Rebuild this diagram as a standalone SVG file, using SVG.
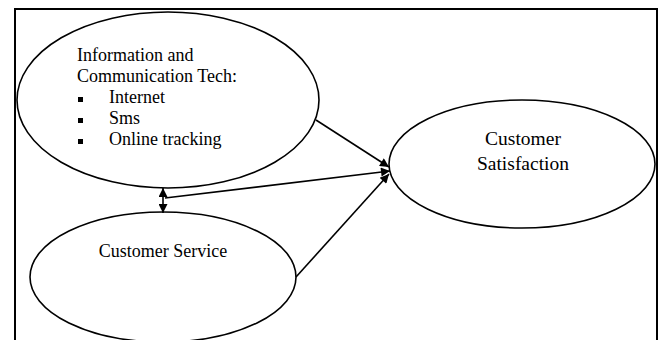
<svg xmlns="http://www.w3.org/2000/svg" width="660" height="340" viewBox="0 0 660 340">
  <style>
    .node ellipse { fill: #ffffff; stroke: #000000; stroke-width: 1.6; }
    .label { font-family: "Liberation Serif", "Times New Roman", serif; fill: #000000; }
    .edge { stroke: #000000; stroke-width: 1.6; fill: none; }
  </style>
  <defs>
    <marker id="arrow" viewBox="0 0 10 10" refX="10" refY="5" markerWidth="11" markerHeight="9" markerUnits="userSpaceOnUse" orient="auto-start-reverse">
      <path d="M0,0 L10,5 L0,10 Z" fill="#000000"/>
    </marker>
  </defs>
  <rect width="660" height="340" fill="#ffffff"/>
  <!-- outer frame, open at the bottom -->
  <path d="M15,340 L15,9 L657,9 L657,340" fill="none" stroke="#000000" stroke-width="2"/>

  <g id="ict" class="node">
    <ellipse cx="168" cy="100" rx="151" ry="88"/>
    <text class="label" font-size="18" x="77" y="61">Information and</text>
    <text class="label" font-size="18" x="77" y="82">Communication Tech:</text>
    <rect x="78" y="97" width="5" height="5"/>
    <text class="label" font-size="18" x="109" y="103">Internet</text>
    <rect x="78" y="118" width="5" height="5"/>
    <text class="label" font-size="18" x="109" y="124">Sms</text>
    <rect x="78" y="139" width="5" height="5"/>
    <text class="label" font-size="18" x="109" y="145">Online tracking</text>
  </g>

  <g id="customer-service" class="node">
    <ellipse cx="163" cy="277" rx="133" ry="65"/>
    <text class="label" font-size="18" x="163" y="257" text-anchor="middle">Customer Service</text>
  </g>

  <g id="customer-satisfaction" class="node">
    <ellipse cx="522" cy="164" rx="133" ry="64"/>
    <text class="label" font-size="19.5" x="523" y="145" text-anchor="middle">Customer</text>
    <text class="label" font-size="19.5" x="523" y="170" text-anchor="middle">Satisfaction</text>
  </g>

  <g id="connectors">
    <line class="edge" x1="316" y1="120" x2="389" y2="167" marker-end="url(#arrow)"/>
    <line class="edge" x1="165" y1="198" x2="390" y2="171" marker-end="url(#arrow)"/>
    <line class="edge" x1="296" y1="277" x2="389" y2="174" marker-end="url(#arrow)"/>
    <line class="edge" x1="163" y1="188" x2="163" y2="213" marker-start="url(#arrow)" marker-end="url(#arrow)"/>
  </g>
</svg>
